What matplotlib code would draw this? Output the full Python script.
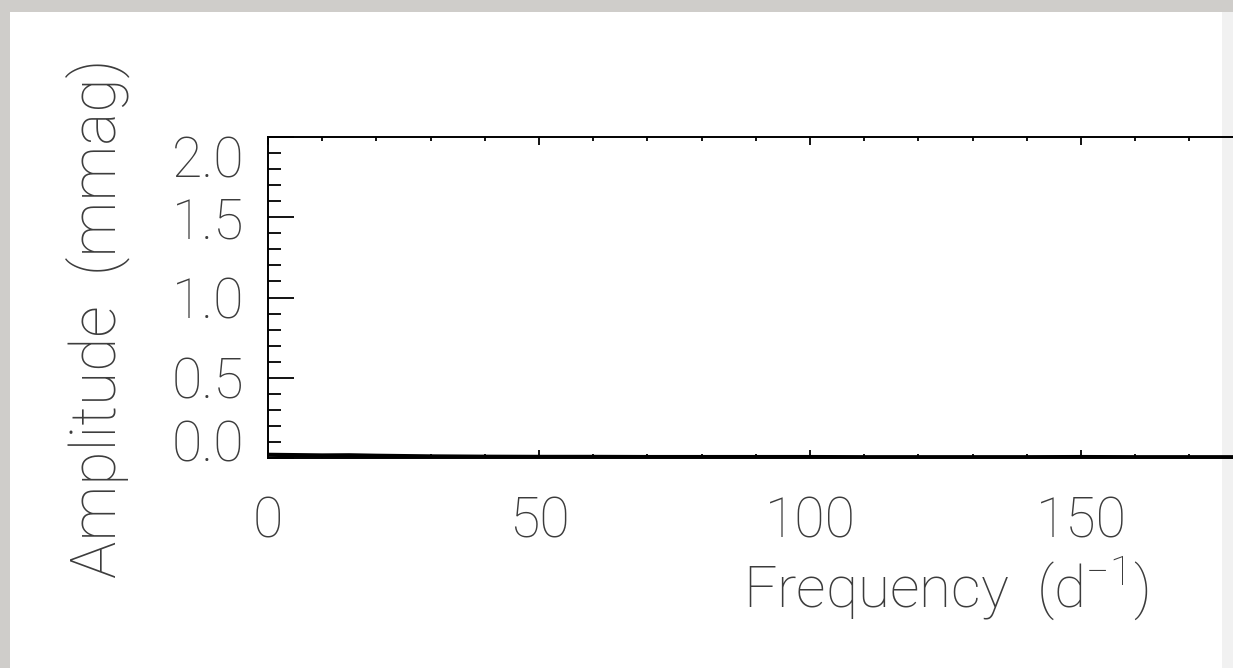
import matplotlib
matplotlib.use("Agg")
import matplotlib.pyplot as plt
from matplotlib.patches import Rectangle
from matplotlib.transforms import ScaledTranslation
import numpy as np

# amplitude spectrum (mmag): a flat noise floor hugging zero
freq = [0, 5, 10, 15, 20, 25, 30, 35, 40, 50, 60, 70, 80, 90, 100,
        110, 120, 130, 140, 150, 160, 170, 180, 190, 200, 225, 250]
amp = [0.02, 0.018, 0.016, 0.017, 0.014, 0.012, 0.01, 0.009, 0.008, 0.007, 0.007,
       0.006, 0.006, 0.006, 0.006, 0.005, 0.005, 0.005, 0.005, 0.006, 0.005,
       0.005, 0.005, 0.005, 0.005, 0.005, 0.005]

xticks = [0, 50, 100, 150]
yticks = [0.0, 0.5, 1.0, 1.5, 2.0]
ytick_labels = ["0.0", "0.5", "1.0", "1.5", "2.0"]
# vertical nudge (px, up is positive) of the y labels as they sit in the original
ylabel_shift = [17, 0, 0, 0, -20]

plt.rcParams["mathtext.fontset"] = "custom"
plt.rcParams["mathtext.rm"] = "Roboto:light"
FONT = dict(family="Roboto", weight="light", color="#3c3c3c")

fig = plt.figure(figsize=(12.33, 6.68), dpi=100)
fig.patch.set_facecolor("#cfcdca")
fig.patches.append(Rectangle((10 / 1233, 0), 1212 / 1233, 656 / 668,
                             transform=fig.transFigure, facecolor="white",
                             edgecolor="none", zorder=-2))
fig.patches.append(Rectangle((1222 / 1233, 0), 11 / 1233, 656 / 668,
                             transform=fig.transFigure, facecolor="#f1f1f1",
                             edgecolor="none", zorder=-2))

ax = fig.add_axes([268 / 1233, 210 / 668, 1355 / 1233, 321 / 668])
ax.set_facecolor("none")
ax.plot(freq, amp, color="black", lw=3)
ax.set_xlim(0, 250)
ax.set_ylim(0, 2.0)

ax.set_xticks(xticks)
ax.set_xticklabels([str(v) for v in xticks], fontsize=40, **FONT)
ax.set_xticks(np.arange(0, 251, 10), minor=True)
ax.set_yticks(yticks)
ax.set_yticklabels(ytick_labels, fontsize=40, **FONT)
ax.set_yticks(np.arange(0, 2.01, 0.1), minor=True)

ax.tick_params(axis="x", which="major", direction="in", length=6, width=1.3,
               top=True, pad=27)
ax.tick_params(axis="x", which="minor", direction="in", length=3, width=1.3, top=True)
ax.tick_params(axis="y", which="major", direction="in", length=19, width=1.3,
               right=True, pad=17)
ax.tick_params(axis="y", which="minor", direction="in", length=9.5, width=1.3, right=True)

for lab, dy in zip(ax.get_yticklabels(), ylabel_shift):
    lab.set_transform(lab.get_transform() + ScaledTranslation(0, dy / 100, fig.dpi_scale_trans))

for s in ax.spines.values():
    s.set_linewidth(1.4)

ax.set_xlabel("Frequency  (d$^{-1}$)", fontsize=42, va="center", **FONT)
ax.xaxis.set_label_coords(0.5, -0.408)
ax.set_ylabel("Amplitude  (mmag)", fontsize=45, va="center", **FONT)
ax.yaxis.set_label_coords(-0.1255, 0.436)

fig.savefig("out.png", dpi=100)
